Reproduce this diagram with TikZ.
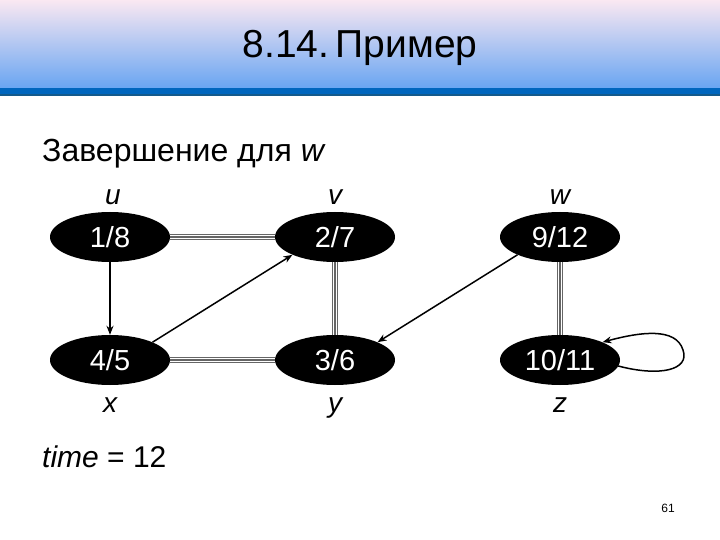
\documentclass[tikz,border=0pt]{standalone}
\usepackage{fontspec}
\setmainfont{Liberation Sans}
\usetikzlibrary{shapes.geometric,arrows.meta}
\definecolor{hdtop}{RGB}{250,232,242}
\definecolor{hdbot}{RGB}{105,165,242}
\definecolor{band}{RGB}{0,102,190}
\definecolor{bandline}{RGB}{20,90,140}
\tikzset{
  vert/.style={ellipse, fill=black, text=white, minimum width=120pt, minimum height=50pt, inner sep=0pt, font=\fontsize{29}{34}\selectfont},
  lbl/.style={font=\fontsize{28}{32}\selectfont\itshape, inner sep=0pt},
  treeedge/.style={draw=gray!80!black, line width=6pt, postaction={draw=white, line width=3.6pt}, postaction={draw=gray!80!black, line width=1.2pt}},
  arr/.style={draw=black, line width=1.5pt, -{Stealth[length=9pt,width=7pt]}}
}
\begin{document}
\begin{tikzpicture}[x=1pt,y=-1pt]
\useasboundingbox (0,0) rectangle (720,540);
\fill[white] (0,0) rectangle (720,540);
\shade[top color=hdtop, bottom color=hdbot] (0,0) rectangle (720,88);
\fill[band] (0,88) rectangle (720,94);
\fill[bandline] (0,94) rectangle (720,96);
\node[font=\fontsize{39}{44}\selectfont, anchor=base] (title) at (360,58) {8.14.\,Пример};
\node[font=\fontsize{32}{36}\selectfont, anchor=base west, inner sep=0pt] (head) at (42,162) {Завершение для \textit{w}};

\node[vert] (u) at (110,237) {1/8};
\node[vert] (v) at (335,237) {2/7};
\node[vert] (w) at (560,237) {9/12};
\node[vert] (x) at (110,360) {4/5};
\node[vert] (y) at (335,360) {3/6};
\node[vert] (z) at (560,360) {10/11};

\node[lbl, anchor=base] (lu) at (113,205) {u};
\node[lbl, anchor=base] (lv) at (335,205) {v};
\node[lbl, anchor=base] (lw) at (560,205) {w};
\node[lbl, anchor=base] (lx) at (110,412) {x};
\node[lbl, anchor=base] (ly) at (335,412) {y};
\node[lbl, anchor=base] (lz) at (560,412) {z};

\path[treeedge] (u.east) -- (v.west);
\path[treeedge] (v.south) -- (y.north);
\path[treeedge] (y.west) -- (x.east);
\path[treeedge] (w.south) -- (z.north);

\draw[arr] (u.south) -- (x.north);
\draw[arr] (x.north east) -- (v.south west);
\draw[arr] (w.south west) -- (y.north east);
\draw[arr] (z.east) ++(-2,6) coordinate (zs) .. controls (660,377) and (690,370) .. (683,350) .. controls (676,327) and (640,332) .. (z.north east);

\node[font=\fontsize{30}{34}\selectfont, anchor=base west, inner sep=0pt] (time) at (42,467) {\textit{time} = 12};
\node[font=\fontsize{12}{14}\selectfont, anchor=base] (pg) at (668,512) {61};
\end{tikzpicture}
\end{document}
